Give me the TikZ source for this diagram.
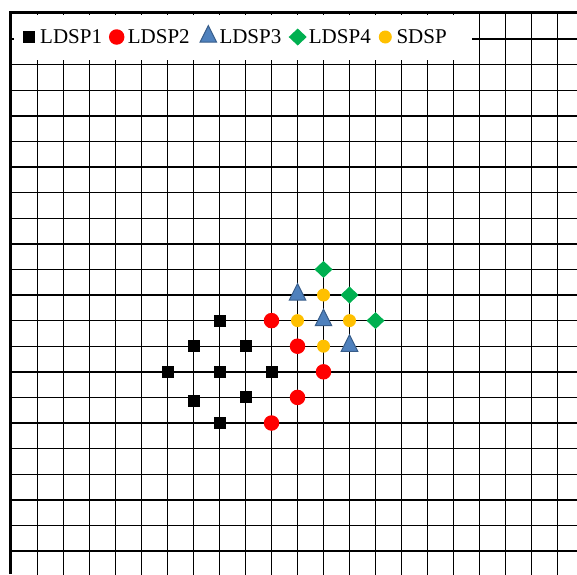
\documentclass[tikz,border=0pt]{standalone}
\usepackage{fontspec}
\setmainfont{Liberation Serif}
\usetikzlibrary{positioning,shapes.geometric}

\definecolor{ldspred}{HTML}{FF0000}
\definecolor{ldspblue}{HTML}{4F81BD}
\definecolor{ldspblueline}{HTML}{385D8A}
\definecolor{ldspgreen}{HTML}{00B050}
\definecolor{sdspyellow}{HTML}{FFC000}

\begin{document}
\begin{tikzpicture}[
    x=1pt, y=-1pt,
    node distance=11pt,
    grid line/.style={line width=1.4pt, draw=black},
    frame line/.style={line width=3pt, draw=black},
    dotbase/.style={inner sep=0pt, outer sep=0pt},
    ldspone/.style={dotbase, rectangle, fill=black, minimum size=12pt},
    ldsptwo/.style={dotbase, circle, fill=ldspred, minimum size=15.5pt},
    ldspthree/.style={dotbase, isosceles triangle, isosceles triangle stretches,
      shape border rotate=90, minimum width=16.5pt, minimum height=16.5pt,
      fill=ldspblue, draw=ldspblueline, line width=1pt},
    ldspfour/.style={dotbase, diamond, fill=ldspgreen, minimum width=18pt, minimum height=17pt},
    sdsp/.style={dotbase, circle, fill=sdspyellow, minimum size=13pt},
    legendbox/.style={rectangle, fill=white, inner sep=0pt, minimum width=457.5pt, minimum height=45pt},
    legendtext/.style={inner sep=0pt, font=\fontsize{21}{24}\selectfont}
  ]
    \useasboundingbox (0,0) rectangle (577,574);

    \begin{scope}[shift={(37.5,39)}, x=26pt, y=-25.6pt]
      \foreach \i in {0,...,20} {
        \draw[grid line] (\i,-1) -- (\i,21);
        \draw[grid line] (-1.05,\i) -- (21,\i);
      }
    \end{scope}

    \node[legendbox] (legend) at (243.2,37.5) {};
    \draw[frame line] (10,574) -- (10,12.5) -- (577,12.5);

    \begin{scope}[shift={(37.5,39)}, x=26pt, y=-25.6pt]
      \foreach \p [count=\k] in {{7,11},{6,12},{8,12},{5,13},{7,13},{9,13},{6,14.15},{8,14},{7,15}}
        \node[ldspone] (ldspone-\k) at (\p) {};
      \foreach \p [count=\k] in {{9,11},{10,12},{11,13},{10,14},{9,15}}
        \node[ldsptwo] (ldsptwo-\k) at (\p) {};
      \foreach \p [count=\k] in {{10,10},{11,11},{12,12}}
        \node[ldspthree] (ldspthree-\k) at (\p) {};
      \foreach \p [count=\k] in {{11,9},{12,10},{13,11}}
        \node[ldspfour] (ldspfour-\k) at (\p) {};
      \foreach \p [count=\k] in {{11,10},{10,11},{12,11},{11,12}}
        \node[sdsp] (sdsp-\k) at (\p) {};
    \end{scope}

    \node[ldspone] (keyone) at (29,37) {};
    \node[legendtext, right=of keyone.center] (keyonetext) {LDSP1};
    \node[ldsptwo] (keytwo) at (116.7,37) {};
    \node[legendtext, right=of keytwo.center] (keytwotext) {LDSP2};
    \node[ldspthree] (keythree) at (208.3,37) {};
    \node[legendtext, right=of keythree.center] (keythreetext) {LDSP3};
    \node[ldspfour] (keyfour) at (297.7,37) {};
    \node[legendtext, right=of keyfour.center] (keyfourtext) {LDSP4};
    \node[sdsp] (keyfive) at (385.3,37) {};
    \node[legendtext, right=of keyfive.center] (keyfivetext) {SDSP};
  \end{tikzpicture}
\end{document}
